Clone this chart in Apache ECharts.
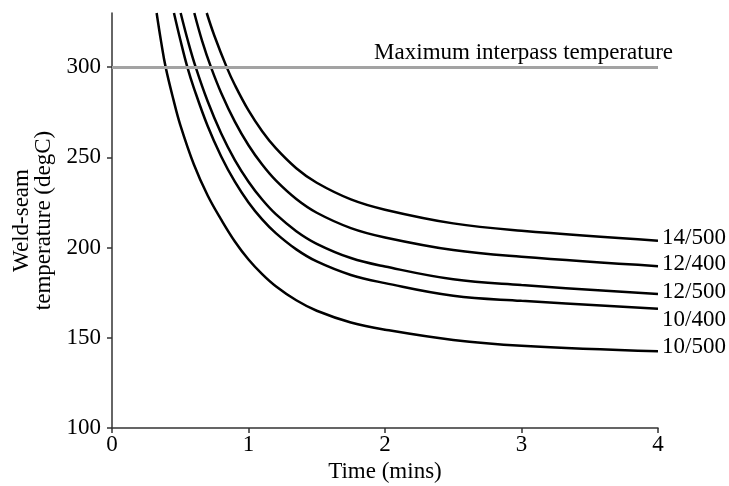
<!DOCTYPE html>
<html>
<head>
<meta charset="utf-8">
<script src="https://cdn.jsdelivr.net/npm/echarts@6/dist/echarts.min.js"></script>
<style>
  html, body { margin: 0; padding: 0; background: #fff; }
  #chart { width: 729px; height: 486px; }
</style>
</head>
<body>
<div id="chart"></div>
<script>
// time in minutes, temperature in degC
const curveNames = ['14/500', '12/400', '12/500', '10/400', '10/500'];

const time14x500 = [0.694, 0.75, 0.84, 0.9, 1.0, 1.1, 1.2, 1.35, 1.5, 1.75, 2.0, 2.5, 3.0, 4.0];
const temp14x500 = [330, 317.4, 300, 290.1, 276, 264.5, 255.1, 244, 235.9, 226.7, 221, 213.4, 209.3, 203.8];

const time12x400 = [0.603, 0.66, 0.725, 0.8, 0.9, 1.0, 1.1, 1.2, 1.35, 1.5, 1.75, 2.0, 2.5, 3.0, 4.0];
const temp12x400 = [330, 314.6, 300, 285.7, 269.8, 256.7, 246, 237.2, 226.9, 219.3, 210.8, 205.6, 198.6, 194.9, 189.7];

const time12x500 = [0.503, 0.56, 0.613, 0.7, 0.8, 0.9, 1.0, 1.1, 1.2, 1.35, 1.5, 1.75, 2.0, 2.5, 3.0, 4.0];
const temp12x500 = [330, 313.5, 300, 281.2, 263.2, 248.5, 236.5, 226.6, 218.5, 209.1, 202.1, 194.2, 189.5, 182.4, 179.2, 174.2];

const time10x400 = [0.454, 0.5, 0.552, 0.6, 0.7, 0.8, 0.9, 1.0, 1.1, 1.2, 1.35, 1.5, 1.75, 2.0, 2.5, 3.0, 4.0];
const temp10x400 = [330, 315.3, 300, 288.4, 267.5, 250.5, 236.5, 225, 215.6, 208, 199, 192.3, 184.8, 180.3, 173.3, 170.5, 166.1];

const time10x500 = [0.327, 0.36, 0.393, 0.45, 0.5, 0.6, 0.7, 0.8, 0.9, 1.0, 1.1, 1.2, 1.35, 1.5, 1.75, 2.0, 2.5, 3.0, 4.0];
const temp10x500 = [330, 314, 300, 282, 268, 246, 229, 215.5, 203.4, 193.4, 185.3, 178.6, 170.8, 165, 158.5, 154.5, 148.8, 145.6, 142.5];

const yTicks = [100, 150, 200, 250, 300];
const maxInterpass = 300;

const times = [time14x500, time12x400, time12x500, time10x400, time10x500];
const temps = [temp14x500, temp12x400, temp12x500, temp10x400, temp10x500];
// nudge end labels so they don't collide
const labelShift = [-3, -2, -2, 11, -4];

const font = 'Liberation Serif';
const chart = echarts.init(document.getElementById('chart'));

const series = curveNames.map(function (name, i) {
  const s = {
    name: name,
    type: 'line',
    smooth: 0.4,
    showSymbol: false,
    symbol: 'none',
    clip: true,
    silent: true,
    lineStyle: { color: '#000', width: 2.5 },
    data: times[i].map(function (t, j) { return [t, temps[i][j]]; }),
    endLabel: {
      show: true,
      formatter: name,
      color: '#000',
      fontFamily: font,
      fontSize: 23,
      distance: 4,
      offset: [0, labelShift[i]]
    }
  };
  if (i === 0) {
    s.markLine = {
      silent: true,
      symbol: 'none',
      lineStyle: { color: '#a3a3a3', width: 3, type: 'solid' },
      label: {
        show: true,
        position: 'insideEndTop',
        formatter: 'Maximum interpass temperature',
        color: '#000',
        fontFamily: font,
        fontSize: 23,
        distance: [-15, 3]
      },
      data: [{ yAxis: maxInterpass }]
    };
  }
  return s;
});

chart.setOption({
  animation: false,
  grid: { left: 112, right: 71, top: 13, bottom: 58, outerBoundsMode: 'none', containLabel: false },
  xAxis: {
    type: 'value',
    min: 0,
    max: 4,
    interval: 1,
    name: 'Time (mins)',
    nameLocation: 'middle',
    nameGap: 24,
    nameTextStyle: { color: '#000', fontFamily: font, fontSize: 23 },
    axisLine: { show: true, lineStyle: { color: '#333', width: 1.5 } },
    axisTick: { show: true, length: 5, lineStyle: { color: '#333', width: 1.5 } },
    axisLabel: { color: '#000', fontFamily: font, fontSize: 23, margin: 5 },
    splitLine: { show: false }
  },
  yAxis: {
    type: 'value',
    min: 100,
    max: 330,
    interval: 50,
    name: 'Weld-seam\ntemperature (degC)',
    nameLocation: 'middle',
    nameGap: 57,
    nameRotate: 90,
    nameTextStyle: { color: '#000', fontFamily: font, fontSize: 23, lineHeight: 22 },
    axisLine: { show: true, lineStyle: { color: '#333', width: 1.5 } },
    axisTick: { show: true, length: 5, customValues: yTicks, lineStyle: { color: '#333', width: 1.5 } },
    axisLabel: { color: '#000', fontFamily: font, fontSize: 23, margin: 11, customValues: yTicks },
    splitLine: { show: false }
  },
  series: series
});
</script>
</body>
</html>
